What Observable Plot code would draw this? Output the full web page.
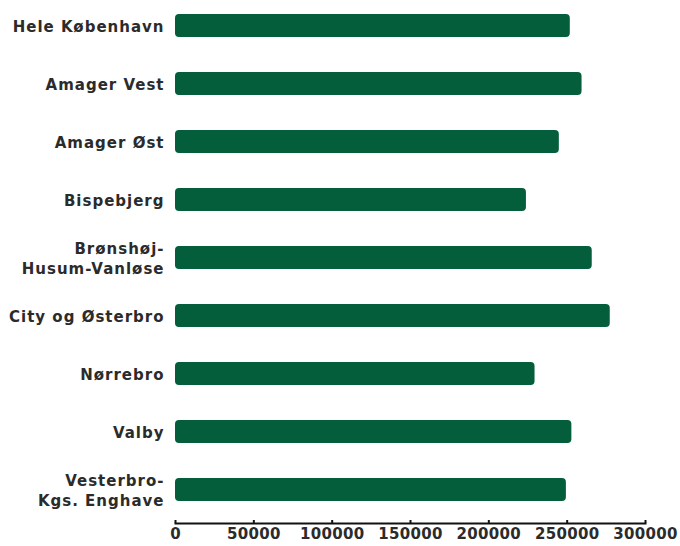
<!DOCTYPE html>
<html>
<head>
<meta charset="utf-8">
<script src="https://cdn.jsdelivr.net/npm/d3@7"></script>
<script src="https://cdn.jsdelivr.net/npm/@observablehq/plot@0.6"></script>
<style>
  html, body { margin: 0; padding: 0; background: #fff; }
  #chart svg { display: block; }
  #chart g[aria-label="y-axis tick label"] text { letter-spacing: 1px; }
  #chart g[aria-label="x-axis tick label"] text { letter-spacing: 0.3px; }
</style>
</head>
<body>
<div id="chart"></div>
<script>
const categories = [
  "Hele København",
  "Amager Vest",
  "Amager Øst",
  "Bispebjerg",
  "Brønshøj-Husum-Vanløse",
  "City og Østerbro",
  "Nørrebro",
  "Valby",
  "Vesterbro-Kgs. Enghave"
];
const categoryLabels = [
  "Hele København",
  "Amager Vest",
  "Amager Øst",
  "Bispebjerg",
  "Brønshøj-\nHusum-Vanløse",
  "City og Østerbro",
  "Nørrebro",
  "Valby",
  "Vesterbro-\nKgs. Enghave"
];
const values = [252000, 259500, 245000, 224000, 266000, 277500, 229500, 253000, 249500];
const xTicks = [0, 50000, 100000, 150000, 200000, 250000, 300000];

const data = categories.map((c, i) => ({category: c, value: values[i]}));
const labelOf = new Map(categories.map((c, i) => [c, categoryLabels[i]]));

const font = "DejaVu Sans, Verdana, sans-serif";

const chart = Plot.plot({
  width: 680,
  height: 546,
  marginLeft: 175,
  marginRight: 35,
  marginTop: 0,
  marginBottom: 23,
  style: {fontFamily: font, fontSize: "15px", fontWeight: "bold", color: "#2b2b2b", background: "#fff"},
  x: {domain: [0, 300000]},
  y: {domain: categories, range: [0, 515], paddingInner: 0.6, paddingOuter: 0.23},
  marks: [
    Plot.barX(data, {x: "value", y: "category", fill: "#045e3c", rx: 4}),
    Plot.frame({anchor: "bottom", stroke: "#111", strokeWidth: 2}),
    Plot.axisX({ticks: xTicks, tickFormat: d => String(d), tickSize: -3, tickPadding: 8, strokeWidth: 2, stroke: "#111", fill: "#2b2b2b", label: null}),
    Plot.axisY({tickSize: 0, tickPadding: 11, tickFormat: d => labelOf.get(d), lineHeight: 1.33, fill: "#2b2b2b", label: null})
  ]
});
document.getElementById("chart").appendChild(chart);
</script>
</body>
</html>
